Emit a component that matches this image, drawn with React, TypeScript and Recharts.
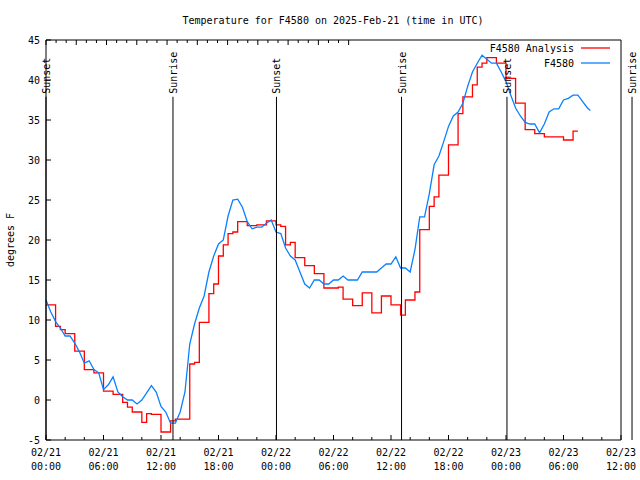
import { LineChart, Line, XAxis, YAxis, ReferenceLine, Legend } from 'recharts';

// time in hours since 02/21 00:00 UTC
const hours = [
  0, 0.5, 1, 1.5, 2, 2.5, 3, 3.5, 4, 4.5, 5, 5.5, 6, 6.5, 7, 7.5, 8, 8.5, 9, 9.5,
  10, 10.5, 11, 11.5, 12, 12.5, 13, 13.5, 14, 14.5, 15, 15.5, 16, 16.5, 17, 17.5, 18, 18.5, 19, 19.5,
  20, 20.5, 21, 21.5, 22, 22.5, 23, 23.5, 24, 24.5, 25, 25.5, 26, 26.5, 27, 27.5, 28, 28.5, 29, 29.5,
  30, 30.5, 31, 31.5, 32, 32.5, 33, 33.5, 34, 34.5, 35, 35.5, 36, 36.5, 37, 37.5, 38, 38.5, 39, 39.5,
  40, 40.5, 41, 41.5, 42, 42.5, 43, 43.5, 44, 44.5, 45, 45.5, 46, 46.5, 47, 47.5, 48, 48.5, 49, 49.5,
  50, 50.5, 51, 51.5, 52, 52.5, 53, 53.5, 54, 54.5, 55, 55.5, 56, 56.5, 56.8,
];

const analysisTemps = [
  11.9, 11.9, 9.2, 8.8, 8.3, 8.3, 6.1, 6.1, 3.8, 3.8, 3.4, 3.4, 1.1, 1.1, 0.7, 0.7, -0.3, -0.9, -1.5, -1.5,
  -2.8, -1.7, -1.8, -1.8, -4.0, -4.0, -2.6, -2.4, -2.4, -2.4, 4.5, 4.7, 9.7, 9.7, 13.3, 14.5, 18.0, 19.4, 20.8, 21.0,
  22.3, 22.3, 21.8, 21.8, 21.9, 21.9, 22.4, 22.4, 21.9, 21.7, 19.4, 19.7, 17.8, 17.8, 16.8, 16.8, 15.8, 15.8, 14.0, 14.0,
  14.0, 14.1, 12.6, 12.6, 11.8, 11.8, 13.4, 13.4, 10.9, 10.9, 13.0, 13.0, 11.9, 11.9, 10.6, 12.5, 12.5, 13.5, 21.3, 21.3,
  24.2, 25.4, 28.1, 28.1, 31.9, 31.9, 35.8, 37.9, 37.9, 39.4, 41.6, 42.1, 42.8, 42.8, 42.1, 42.1, 40.2, 40.2, 37.1, 37.1,
  33.8, 33.8, 33.3, 33.3, 32.9, 32.9, 32.9, 32.9, 32.5, 32.5, 33.6, 33.6, null, null, null,
];

const stationTemps = [
  12.5, 11.0, 9.8, 9.0, 8.0, 8.0, 7.1, 6.0, 4.6, 4.9, 3.8, 3.4, 1.3, 1.9, 2.9, 1.0, 0.4, 0.0, 0.0, -0.5,
  0.0, 0.9, 1.8, 1.0, -0.8, -1.5, -2.9, -2.9, -1.5, 1.0, 7.0, 9.5, 11.5, 13.0, 16.0, 18.0, 19.5, 20.0, 23.0, 25.0,
  25.1, 24.1, 22.3, 21.4, 21.6, 21.6, 22.1, 22.5, 21.0, 20.8, 19.0, 18.0, 17.5, 16.0, 14.5, 14.0, 15.0, 15.0, 14.5, 14.5,
  15.0, 15.0, 15.5, 15.0, 15.0, 15.0, 16.0, 16.0, 16.0, 16.0, 16.5, 17.0, 17.0, 17.9, 16.5, 16.5, 16.0, 18.8, 22.9, 22.9,
  25.8, 29.4, 30.5, 32.3, 34.2, 35.5, 36.0, 37.1, 39.2, 41.0, 42.1, 43.1, 42.6, 42.1, 42.1, 41.0, 39.8, 38.1, 36.5, 35.5,
  34.7, 34.5, 34.5, 33.4, 34.5, 36.0, 36.4, 36.4, 37.5, 37.7, 38.1, 38.1, 37.3, 36.5, 36.2,
];

const seriesNames = ['F4580 Analysis', 'F4580'];

const sunHours = [0, 13.25, 24.05, 37.1, 48.1, 61.15];
const sunNames = ['Sunset', 'Sunrise', 'Sunset', 'Sunrise', 'Sunset', 'Sunrise'];

const yTicks = [-5, 0, 5, 10, 15, 20, 25, 30, 35, 40, 45];
const xTicks = [0, 2, 4, 6, 8, 10, 12, 14, 16, 18, 20, 22, 24, 26, 28, 30, 32, 34, 36, 38, 40, 42, 44, 46, 48, 50, 52, 54, 56, 58, 60];
const majorHours = [0, 6, 12, 18, 24, 30, 36, 42, 48, 54, 60];
const majorDates = ['02/21', '02/21', '02/21', '02/21', '02/22', '02/22', '02/22', '02/22', '02/23', '02/23', '02/23'];
const majorTimes = ['00:00', '06:00', '12:00', '18:00', '00:00', '06:00', '12:00', '18:00', '00:00', '06:00', '12:00'];

const FONT = '"DejaVu Sans Mono", "Liberation Mono", monospace';

function BottomTick(props: any) {
  const { x, y, payload } = props;
  const i = majorHours.indexOf(payload.value);
  const len = i >= 0 ? 5 : 3;
  return (
    <g>
      <line x1={x} y1={y} x2={x} y2={y - len} stroke="#000" />
      {i >= 0 && (
        <text x={x} y={y + 16} textAnchor="middle" fontSize={10} fontFamily={FONT} fill="#000">
          <tspan x={x}>{majorDates[i]}</tspan>
          <tspan x={x} dy={14}>{majorTimes[i]}</tspan>
        </text>
      )}
    </g>
  );
}

function TopTick(props: any) {
  const { x, y, payload } = props;
  const len = majorHours.includes(payload.value) ? 5 : 3;
  return <line x1={x} y1={y} x2={x} y2={y + len} stroke="#000" />;
}

function LeftTick(props: any) {
  const { x, y, payload } = props;
  return (
    <g>
      <line x1={x} y1={y} x2={x + 5} y2={y} stroke="#000" />
      <text x={x - 6} y={y + 4} textAnchor="end" fontSize={10} fontFamily={FONT} fill="#000">
        {payload.value}
      </text>
    </g>
  );
}

function RightTick(props: any) {
  const { x, y } = props;
  return <line x1={x} y1={y} x2={x - 5} y2={y} stroke="#000" />;
}

const sunLabel = (text: string) => (props: any) => {
  const vb = props.viewBox;
  return (
    <text
      transform={`translate(${vb.x + 4}, ${vb.y - 3}) rotate(-90)`}
      textAnchor="start"
      fontSize={10}
      fontFamily={FONT}
      fill="#000"
    >
      {text}
    </text>
  );
};

const renderLegend = (props: any) => {
  // keep gnuplot's key order (series order), not alphabetical
  const items = [...(props.payload || [])].sort(
    (a: any, b: any) => seriesNames.indexOf(a.value) - seriesNames.indexOf(b.value)
  );
  return (
    <svg width={180} height={34}>
      {items.map((p: any, i: number) => (
        <g key={i}>
          <text x={134} y={12 + i * 15} textAnchor="end" fontSize={10} fontFamily={FONT} fill="#000">
            {p.value}
          </text>
          <line x1={141} x2={170} y1={8 + i * 15} y2={8 + i * 15} stroke={p.color} strokeWidth={1.3} />
        </g>
      ))}
    </svg>
  );
};

export default function App() {
  const data = hours.map((h, i) => ({
    h,
    analysis: analysisTemps[i] ?? null,
    station: stationTemps[i],
  }));

  return (
    <div style={{ position: 'relative', width: 640, height: 480, background: '#fff' }}>
      <style>{'body{margin:0}'}</style>
      <LineChart width={640} height={480} data={data} margin={{ top: 0, right: 0, bottom: 0, left: 0 }}>
        <XAxis
          dataKey="h"
          type="number"
          domain={[0, 60]}
          ticks={xTicks}
          interval={0}
          height={40}
          tickSize={0}
          tickMargin={0}
          tickLine={false}
          axisLine={{ stroke: '#000' }}
          tick={<BottomTick />}
        />
        <XAxis
          xAxisId="top"
          orientation="top"
          type="number"
          domain={[0, 60]}
          ticks={xTicks}
          interval={0}
          height={40}
          tickSize={0}
          tickMargin={0}
          tickLine={false}
          axisLine={{ stroke: '#000' }}
          tick={<TopTick />}
        />
        <YAxis
          type="number"
          domain={[-5, 45]}
          ticks={yTicks}
          interval={0}
          width={46}
          tickSize={0}
          tickMargin={0}
          tickLine={false}
          axisLine={{ stroke: '#000' }}
          tick={<LeftTick />}
        />
        <YAxis
          yAxisId="right"
          orientation="right"
          type="number"
          domain={[-5, 45]}
          ticks={yTicks}
          interval={0}
          width={19}
          tickSize={0}
          tickMargin={0}
          tickLine={false}
          axisLine={{ stroke: '#000' }}
          tick={<RightTick />}
        />
        <Legend
          layout="vertical"
          align="center"
          verticalAlign="middle"
          content={renderLegend}
          wrapperStyle={{ position: 'absolute', left: 440, top: 40, width: 180, height: 34 }}
        />
        <Line
          type="stepAfter"
          dataKey="analysis"
          name={seriesNames[0]}
          stroke="#ff0000"
          strokeWidth={1.3}
          dot={false}
          isAnimationActive={false}
        />
        <Line
          type="linear"
          dataKey="station"
          name={seriesNames[1]}
          stroke="#0a80ff"
          strokeWidth={1.3}
          dot={false}
          isAnimationActive={false}
        />
        {sunHours.map((h, i) => (
          <ReferenceLine
            key={i}
            segment={[{ x: h, y: 37.9 }, { x: h, y: -5 }]}
            stroke="#000"
            ifOverflow="visible"
            label={sunLabel(sunNames[i])}
          />
        ))}
      </LineChart>
      <svg width={640} height={480} style={{ position: 'absolute', left: 0, top: 0, pointerEvents: 'none' }}>
        <text x={333} y={24} textAnchor="middle" fontSize={10} fontFamily={FONT} fill="#000">
          Temperature for F4580 on 2025-Feb-21 (time in UTC)
        </text>
        <text transform="translate(14, 240) rotate(-90)" textAnchor="middle" fontSize={10} fontFamily={FONT} fill="#000">
          degrees F
        </text>
      </svg>
    </div>
  );
}
